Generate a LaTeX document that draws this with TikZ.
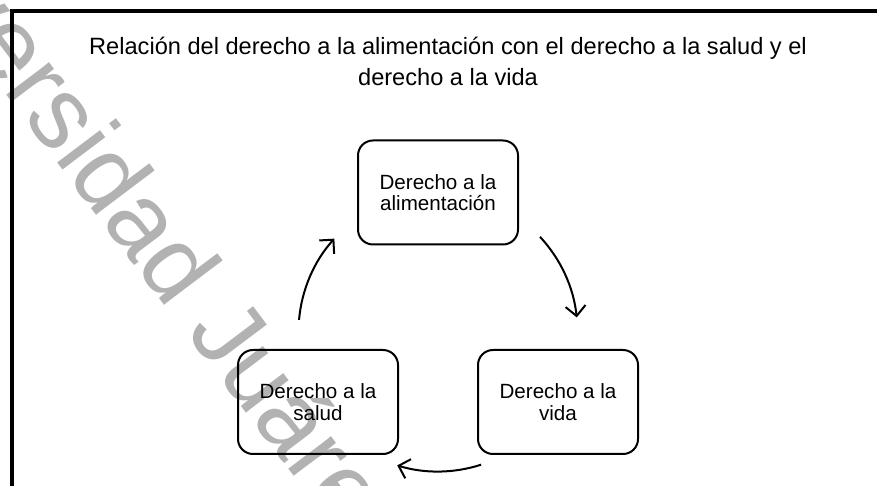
\documentclass[tikz,border=0pt]{standalone}
\usepackage{fontspec}
\setmainfont{Liberation Sans}
\usetikzlibrary{arrows.meta}
\begin{document}
\begin{tikzpicture}[x=0.5pt,y=0.5pt,
        caja/.style={draw,line width=1pt,rounded corners=7.5pt,minimum width=80pt,minimum height=52pt,
            inner sep=0pt,align=center,font=\fontsize{10.3}{10.75}\selectfont},
        flecha/.style={line width=1pt,-{Straight Barb[length=5pt,width=10pt]}}]
    \useasboundingbox (0,0) rectangle (877,486);
    \clip (0,0) rectangle (877,486);
    \node [rotate=-53,anchor=base,text=black!30,font=\fontsize{50.8}{56}\selectfont] (marca) at (107.5,256.7) {Universidad Juárez};
    \draw [line width=2pt] (11.5,0) -- (11.5,474.7) -- (877,474.7);
    \node [align=center,font=\fontsize{11.8}{15.5}\selectfont] (titulo) at (448,425) {Relación del derecho a la alimentación con el derecho a la salud y el\\derecho a la vida};
    \node [caja] (alimentacion) at (438,293.5) {Derecho a la\\alimentación};
    \node [caja] (salud) at (318,84) {Derecho a la\\salud};
    \node [caja] (vida) at (558,84) {Derecho a la\\vida};
    \coordinate (centro) at (438,154);
    \draw [flecha] ([shift={(43:139.5)}]centro) arc [start angle=43,end angle=6,radius=139.5];
    \draw [flecha] ([shift={(-72:139.5)}]centro) arc [start angle=-72,end angle=-107,radius=139.5];
    \draw [flecha] ([shift={(175:139.5)}]centro) arc [start angle=175,end angle=138,radius=139.5];
\end{tikzpicture}
\end{document}
